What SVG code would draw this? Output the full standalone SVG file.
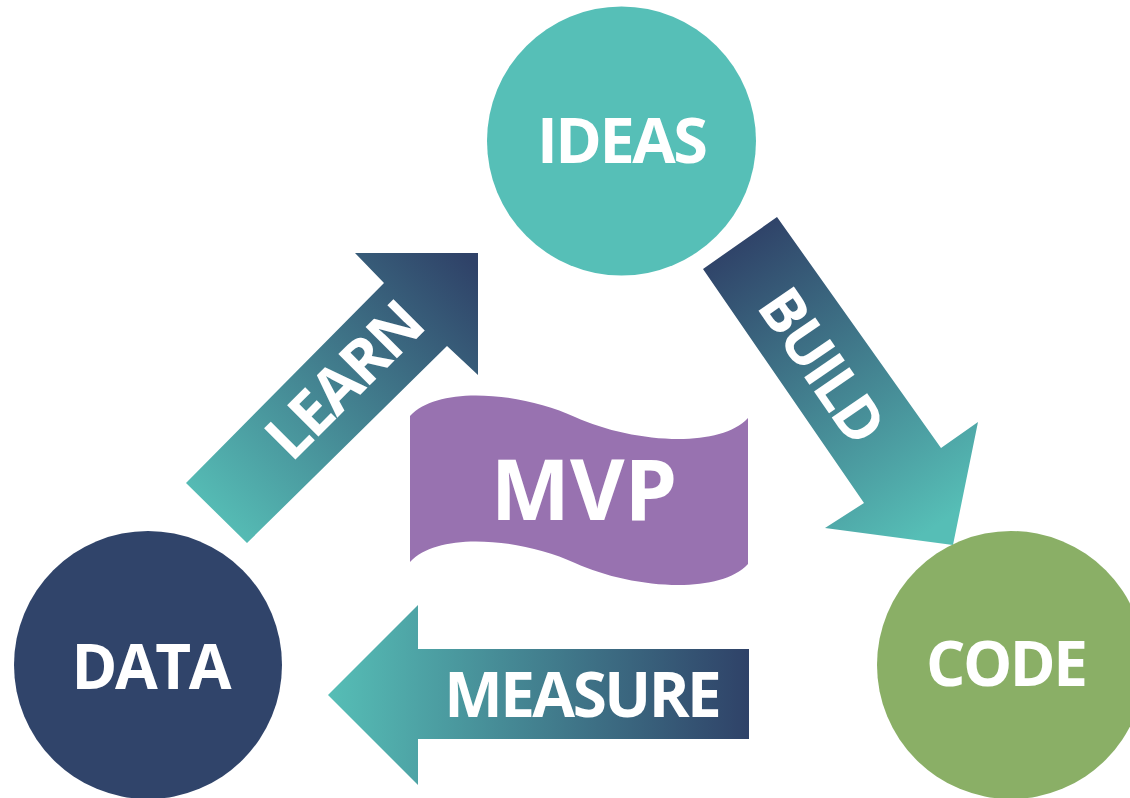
<svg xmlns="http://www.w3.org/2000/svg" width="1130" height="798" viewBox="0 0 1130 798">
<style>
.lbl{font-family:"Open Sans","Noto Sans","Liberation Sans",sans-serif;font-weight:700;fill:#ffffff;text-anchor:middle}
.tight{letter-spacing:-2.5px}
</style>
<defs>
<linearGradient id="gLearn" gradientUnits="userSpaceOnUse" x1="210" y1="520" x2="470" y2="260">
<stop offset="0" stop-color="#56beb6"/><stop offset="1" stop-color="#2f4268"/>
</linearGradient>
<linearGradient id="gBuild" gradientUnits="userSpaceOnUse" x1="735" y1="240" x2="930" y2="530">
<stop offset="0" stop-color="#2f4268"/><stop offset="1" stop-color="#56beb6"/>
</linearGradient>
<linearGradient id="gMeasure" gradientUnits="userSpaceOnUse" x1="328" y1="0" x2="749" y2="0">
<stop offset="0" stop-color="#56beb6"/><stop offset="1" stop-color="#2f4268"/>
</linearGradient>
</defs>
<rect width="1130" height="798" fill="#ffffff"/>
<g id="connectors">
<g id="learn">
<polygon points="478,253 478,375 447,346 247,543 186,483 384,283 355,253" fill="url(#gLearn)"/>
<text class="lbl tight" font-size="62" transform="translate(344.5,379.5) rotate(-45)" x="-1.25" y="22">LEARN</text>
</g>
<g id="build">
<polygon points="703,269 777,217 941,448 978,422 953,545 825,528 864,503" fill="url(#gBuild)"/>
<text class="lbl tight" font-size="60" transform="translate(822,366) rotate(55.5)" x="-1.25" y="21">BUILD</text>
</g>
<g id="measure">
<polygon points="328,695 418,605 418,649 749,649 749,739 418,739 418,785" fill="url(#gMeasure)"/>
<text class="lbl tight" font-size="62" x="581.75" y="717">MEASURE</text>
</g>
</g>
<g id="ideas">
<circle cx="621.5" cy="141" r="134.5" fill="#56bfb7"/>
<text class="lbl tight" font-size="63" x="621.25" y="163">IDEAS</text>
</g>
<g id="data">
<circle cx="148" cy="665" r="134" fill="#30446a"/>
<text class="lbl tight" font-size="62" x="150.25" y="689">DATA</text>
</g>
<g id="code">
<circle cx="1011" cy="665" r="134" fill="#8aaf66"/>
<text class="lbl tight" font-size="62" x="1005.75" y="686">CODE</text>
</g>
<g id="mvp">
<path d="M410,416 C438,385 520,392 575,417 C630,442 718,450 748,418 L748,564 C718,596 630,588 575,563 C520,538 438,531 410,562 Z" fill="#9872b0"/>
<text class="lbl" font-size="84" x="584" y="520">MVP</text>
</g>
</svg>
